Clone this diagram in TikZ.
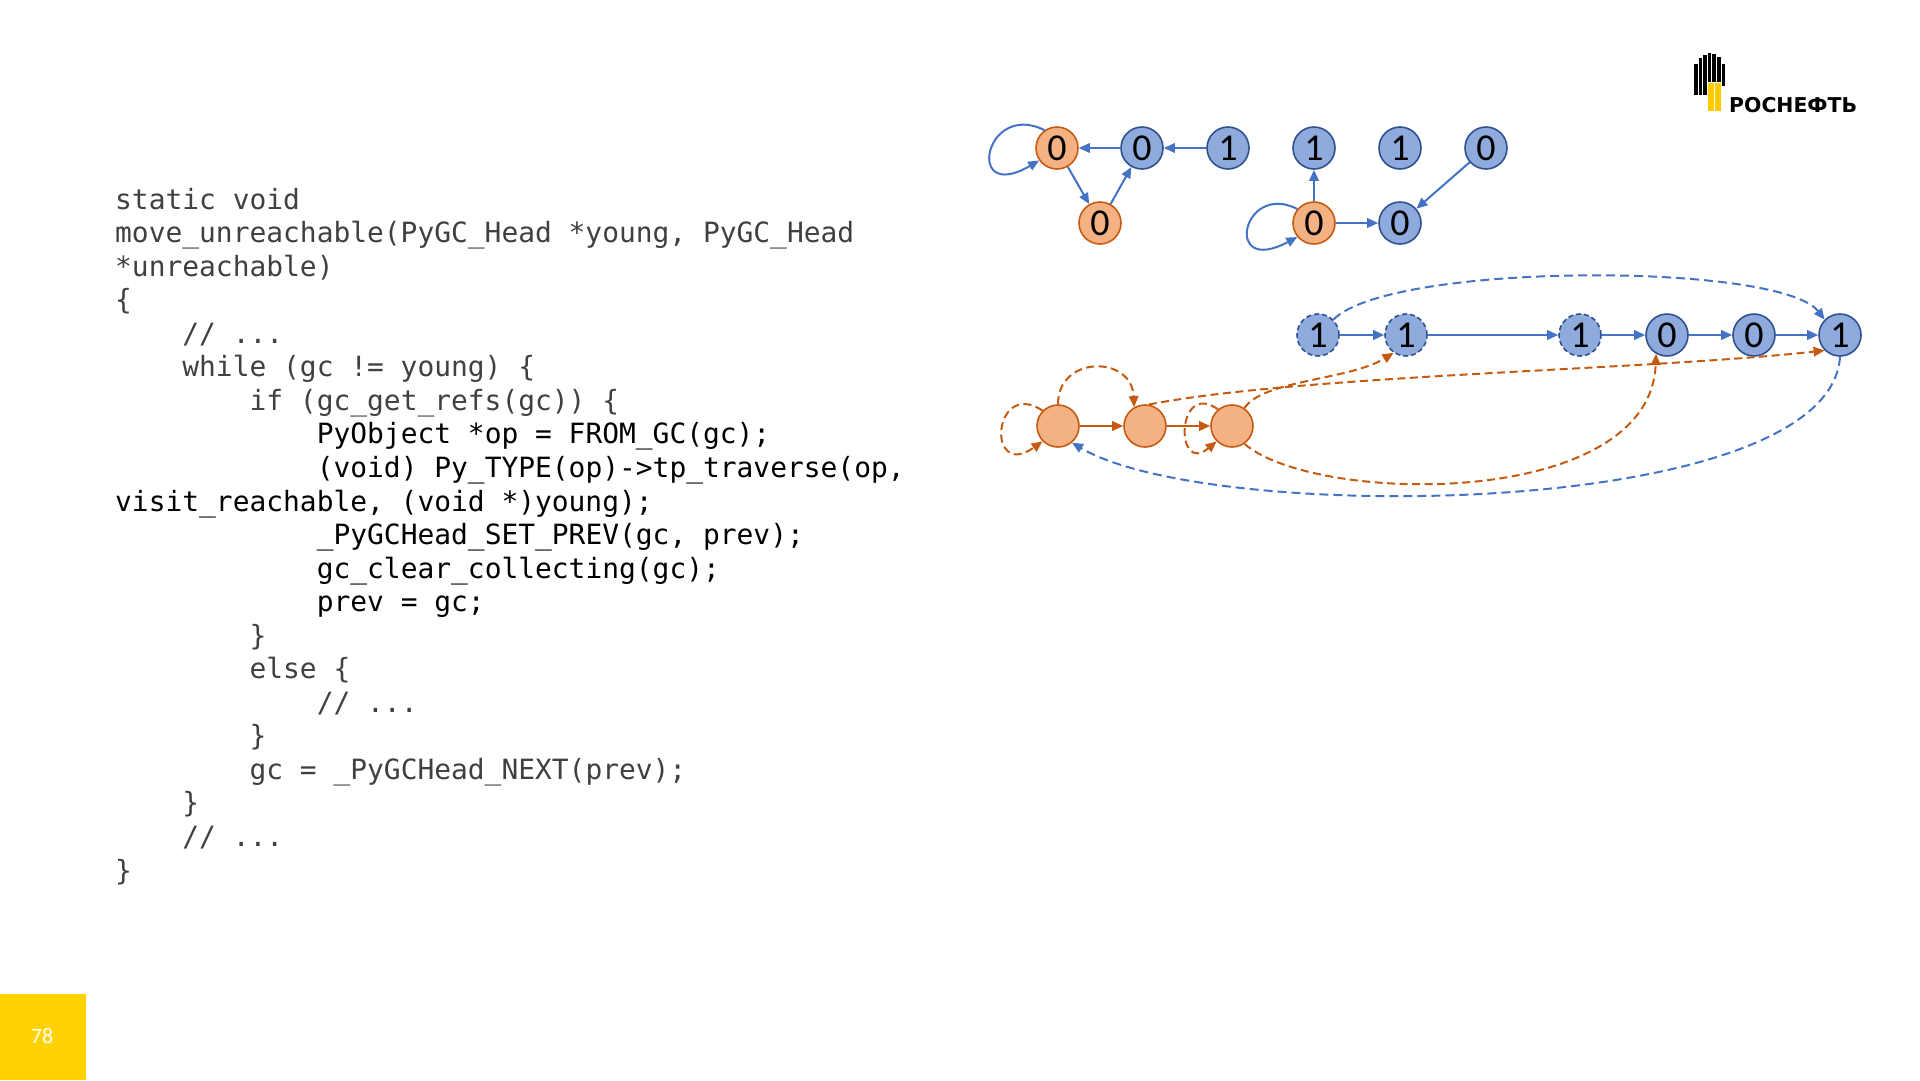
\documentclass[tikz,border=0pt]{standalone}
\usepackage{fontspec}
\usetikzlibrary{arrows.meta}
\newfontfamily\codefont{DejaVu Sans Mono}
\newfontfamily\numfont{Carlito}
\newfontfamily\logofont{DejaVu Sans}
\definecolor{bline}{HTML}{4472C4}
\definecolor{bfill}{HTML}{8FAADC}
\definecolor{bborder}{HTML}{2F528F}
\definecolor{ofill}{HTML}{F4B183}
\definecolor{oborder}{HTML}{C55A11}
\definecolor{codegray}{HTML}{404040}
\definecolor{pageyellow}{HTML}{FFD200}
\begin{document}
\begin{tikzpicture}[x=1pt,y=-1pt,
  bn/.style={circle, minimum size=42pt, inner sep=0pt, fill=bfill, draw=bborder, line width=1.6pt, font=\numfont\fontsize{38}{38}\selectfont},
  bnd/.style={bn, dash pattern=on 5pt off 3pt},
  onode/.style={circle, minimum size=42pt, inner sep=0pt, fill=ofill, draw=oborder, line width=1.6pt, font=\numfont\fontsize{38}{38}\selectfont},
  barrow/.style={draw=bline, line width=2pt, -{Triangle[length=11pt,width=9.5pt]}},
  oarrow/.style={draw=oborder, line width=2pt, -{Triangle[length=11pt,width=9.5pt]}},
  bdash/.style={barrow, dash pattern=on 9pt off 5pt},
  odash/.style={oarrow, dash pattern=on 8pt off 4.5pt},
  code/.style={anchor=base west, inner sep=0pt, text=codegray, font=\codefont\fontsize{27.9}{33.5}\selectfont},
  codeb/.style={code, text=black},
  bar/.style={fill=black, draw=none},
  ybar/.style={fill=pageyellow!90!orange, draw=none}
]
\useasboundingbox (0,0) rectangle (1920,1080);
\fill[white] (0,0) rectangle (1920,1080);

% ---------- code ----------
\node[code]  (l1)  at (115.0,209.0) {static void};
\node[code]  (l2)  at (115.0,242.6) {move\_unreachable(PyGC\_Head *young, PyGC\_Head};
\node[code]  (l3)  at (115.0,276.1) {*unreachable)};
\node[code]  (l4)  at (115.0,309.7) {\{};
\node[code]  (l5)  at (182.2,343.2) {// ...};
\node[code]  (l6)  at (182.2,376.8) {while (gc != young) \{};
\node[code]  (l7)  at (249.4,410.3) {if (gc\_get\_refs(gc)) \{};
\node[codeb] (l8)  at (316.6,443.9) {PyObject *op = FROM\_GC(gc);};
\node[codeb] (l9)  at (316.6,477.4) {(void) Py\_TYPE(op)->tp\_traverse(op,};
\node[codeb] (l10) at (115.0,511.0) {visit\_reachable, (void *)young);};
\node[codeb] (l11) at (316.6,544.5) {\_PyGCHead\_SET\_PREV(gc, prev);};
\node[codeb] (l12) at (316.6,578.1) {gc\_clear\_collecting(gc);};
\node[codeb] (l13) at (316.6,611.6) {prev = gc;};
\node[code]  (l14) at (249.4,645.2) {\}};
\node[code]  (l15) at (249.4,678.7) {else \{};
\node[code]  (l16) at (316.6,712.3) {// ...};
\node[code]  (l17) at (249.4,745.8) {\}};
\node[code]  (l18) at (249.4,779.4) {gc = \_PyGCHead\_NEXT(prev);};
\node[code]  (l19) at (182.2,812.9) {\}};
\node[code]  (l20) at (182.2,846.5) {// ...};
\node[code]  (l21) at (115.0,880.0) {\}};

% ---------- page number ----------
\fill[pageyellow] (0,994) rectangle (86,1080);
\node[text=white, font=\numfont\fontsize{22}{22}\selectfont] (pgnum) at (42,1036) {78};

% ---------- logo ----------
\fill[bar] (1694.0,64) rectangle (1697.6,95);
\fill[bar] (1698.6,58) rectangle (1702.2,95);
\fill[bar] (1703.2,55) rectangle (1706.8,95);
\fill[bar] (1707.8,53) rectangle (1711.4,82);
\fill[bar] (1712.4,54) rectangle (1716.0,82);
\fill[bar] (1717.0,57) rectangle (1720.6,82);
\fill[bar] (1721.6,64) rectangle (1725.2,86);
\fill[ybar] (1707.6,83) rectangle (1713.6,111);
\fill[ybar] (1714.8,83) rectangle (1720.8,111);
\node[anchor=base west, inner sep=0pt, font=\logofont\bfseries\fontsize{20.4}{20.4}\selectfont] (logotext) at (1729,112) {РОСНЕФТЬ};

% ---------- top graphs ----------
\node[onode] (a1) at (1057,148) {0};
\node[bn]    (a2) at (1142,148) {0};
\node[bn]    (a3) at (1228,148) {1};
\node[onode] (a4) at (1100,223) {0};
\node[bn]    (b1) at (1314,148) {1};
\node[bn]    (b2) at (1400,148) {1};
\node[bn]    (b3) at (1486,148) {0};
\node[onode] (b4) at (1314,223) {0};
\node[bn]    (b5) at (1400,223) {0};

\draw[barrow] (a2) -- (a1);
\draw[barrow] (a3) -- (a2);
\draw[barrow] (a1) -- (a4);
\draw[barrow] (a4) -- (a2);
\draw[barrow] (a1.125) .. controls +(-60,-30) and +(-75,44) .. (a1.215);
\draw[barrow] (b4) -- (b1);
\draw[barrow] (b4) -- (b5);
\draw[barrow] (b3) -- (b5);
\draw[barrow] (b4.140) .. controls +(-55,-28) and +(-75,40) .. (b4.220);

% ---------- bottom graph ----------
\node[bnd]   (n1) at (1318,335) {1};
\node[bnd]   (n2) at (1406,335) {1};
\node[bnd]   (n3) at (1580,335) {1};
\node[bn]    (n4) at (1667,335) {0};
\node[bn]    (n5) at (1754,335) {0};
\node[bn]    (n6) at (1840,335) {1};
\node[onode] (o1) at (1058,426) {};
\node[onode] (o2) at (1145,426) {};
\node[onode] (o3) at (1232,426) {};

\draw[barrow] (n1) -- (n2);
\draw[barrow] (n2) -- (n3);
\draw[barrow] (n3) -- (n4);
\draw[barrow] (n4) -- (n5);
\draw[barrow] (n5) -- (n6);
\draw[oarrow] (o1) -- (o2);
\draw[oarrow] (o2) -- (o3);

\draw[bdash] (n1.45) .. controls (1390,262) and (1780,262) .. (n6.135);
\draw[bdash] (n6.270) .. controls (1830,520) and (1210,525) .. (o1.-50);

\draw[odash] (o1.135) .. controls +(-50,-33) and +(-57,40) .. (o1.225);
\draw[odash] (o3.130) .. controls +(-42,-30) and +(-42,35) .. (o3.225);
\draw[odash] (o1.90) .. controls (1058,355) and (1132,355) .. (o2.120);
\draw[odash] (o2.80) .. controls (1300,375) and (1650,370) .. (n6.225);
\draw[odash] (o3.55) .. controls (1262,380) and (1350,380) .. (n2.235);
\draw[odash] (o3.-55) .. controls (1315,505) and (1650,510) .. (n4.240);
\end{tikzpicture}
\end{document}
